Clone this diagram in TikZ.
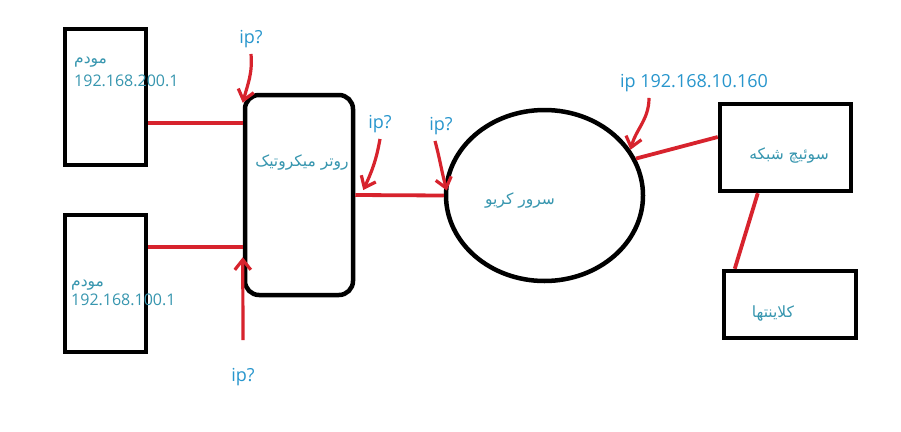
\documentclass[tikz,border=0pt]{standalone}
\usepackage{fontspec}
\setmainfont{Open Sans}
\newfontfamily\arabicfont[Script=Arabic]{DejaVu Sans}
\TeXXeTstate=1
\usetikzlibrary{shapes.geometric,arrows.meta}
\definecolor{ipblue}{RGB}{40,150,205}
\definecolor{boxtext}{RGB}{55,150,175}
\definecolor{linkred}{RGB}{215,35,45}
\tikzset{
  blackbox/.style={draw=black,line width=4.5pt,inner sep=0pt},
  link/.style={draw=linkred,line width=3.8pt},
  iparrow/.style={draw=linkred,line width=3.2pt,-{Straight Barb[length=10pt,width=16pt,line width=3.2pt]}},
  iplabel/.style={text=ipblue,font=\fontsize{18}{20}\selectfont,inner sep=0pt},
  fatext/.style={text=boxtext,font=\arabicfont\fontsize{15.5}{18}\selectfont,inner sep=0pt},
  numtext/.style={text=boxtext,font=\fontsize{16}{18}\selectfont,inner sep=0pt}
}
\begin{document}
\begin{tikzpicture}[x=1pt,y=-1pt]
\useasboundingbox[fill=white] (0,0) rectangle (901,431);
% boxes
\node[blackbox,minimum width=81pt,minimum height=136pt] (m1) at (105.5,97) {};
\node[blackbox,minimum width=81pt,minimum height=137pt] (m2) at (105.5,283.5) {};
\node[blackbox,rounded corners=14pt,minimum width=108pt,minimum height=200pt] (router) at (299,195) {};
\node[blackbox,ellipse,minimum width=197pt,minimum height=171pt] (server) at (544.5,195.5) {};
\node[blackbox,minimum width=131pt,minimum height=87pt] (sw) at (785.5,147.5) {};
\node[blackbox,minimum width=132pt,minimum height=67pt] (cl) at (790,304.5) {};
% texts in boxes
\node[fatext,anchor=west] (m1fa) at (74,62) {\beginR مودم\endR};
\node[numtext,anchor=west] (m1ip) at (74,81) {192.168.200.1};
\node[fatext,anchor=west] (m2fa) at (71,285) {\beginR مودم\endR};
\node[numtext,anchor=west] (m2ip) at (71,300) {192.168.100.1};
\node[fatext] (routert) at (302,163) {\beginR روتر میکروتیک\endR};
\node[fatext] (servert) at (520,200) {\beginR سرور کریو\endR};
\node[fatext] (swt) at (789,156) {\beginR سوئیچ شبکه\endR};
\node[fatext] (clt) at (773,313) {\beginR کلاینتها\endR};
% ip labels
\node[iplabel] (ip1) at (251,39) {ip?};
\node[iplabel] (ip2) at (243,377) {ip?};
\node[iplabel] (ip3) at (380,124) {ip?};
\node[iplabel] (ip4) at (441,126) {ip?};
\node[iplabel] (ip5) at (694,83) {ip 192.168.10.160};
% connectors
\coordinate (y1) at (0,123);
\coordinate (y2) at (0,247);
\draw[link] (m1.east |- y1) -- (router.west |- y1);
\draw[link] (m2.east |- y2) -- (router.west |- y2);
\draw[link] (router.east) -- (server.west);
\draw[link] (server.22) -- (sw.west |- 0,137);
\draw[link] ([xshift=40pt]sw.south west) -- ([xshift=13pt]cl.north west);
% ip arrows
\draw[iparrow] ([yshift=-6pt]ip1.south) to[out=-85,in=75] ([yshift=-10pt]router.north west);
\draw[iparrow] ([yshift=28pt]ip2.north) -- ([yshift=40pt]router.south west);
\draw[iparrow] ([yshift=-6pt]ip3.south) to[out=-100,in=65] ([xshift=8pt,yshift=5pt]router.east);
\draw[iparrow] ([xshift=-6pt,yshift=-6pt]ip4.south) to[out=-75,in=105] ([xshift=3pt,yshift=5pt]server.west);
\draw[iparrow] ([xshift=-45pt,yshift=-6pt]ip5.south) to[out=-90,in=75] (server.28);
\end{tikzpicture}
\end{document}
